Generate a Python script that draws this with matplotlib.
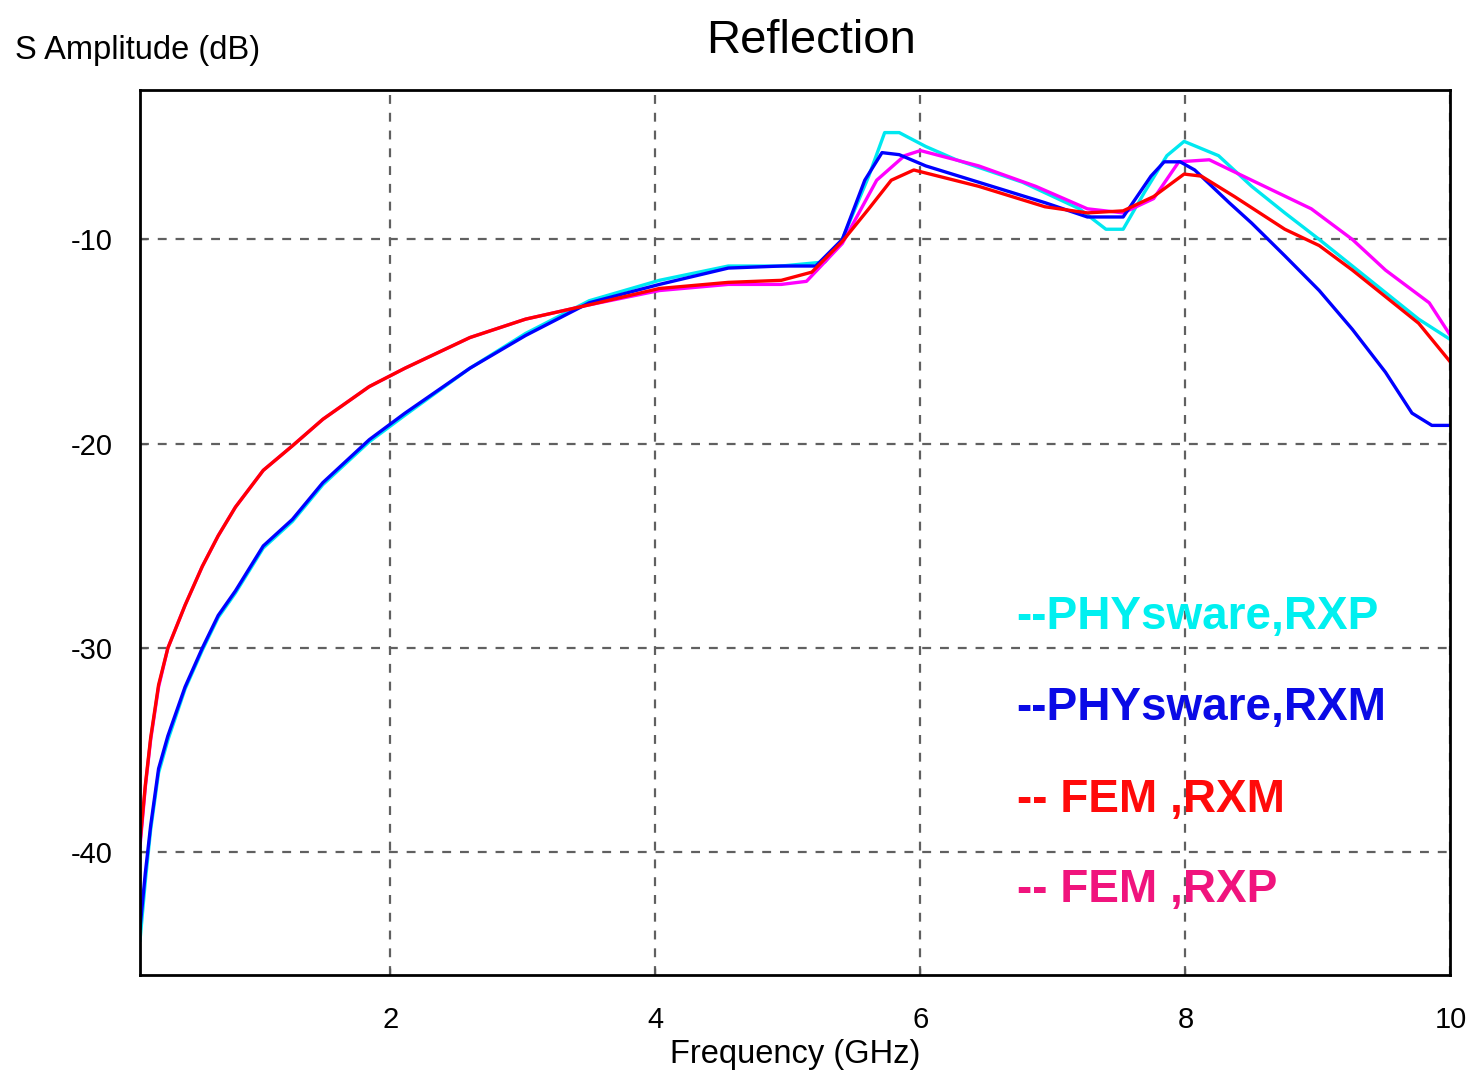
import matplotlib
matplotlib.use("Agg")
import matplotlib.pyplot as plt

plt.rcParams['font.family'] = ['Liberation Sans', 'DejaVu Sans']
plt.rcParams['axes.unicode_minus'] = False

# frequency (GHz) / S amplitude (dB)
f_low = [0.11, 0.15, 0.19, 0.25, 0.32, 0.45, 0.58, 0.70, 0.83, 1.04, 1.26, 1.49, 1.84, 2.11, 2.60, 3.02, 3.50, 4.03, 4.55]
blue_low = [-43.7, -41.0, -38.7, -35.9, -34.3, -31.9, -30.0, -28.4, -27.2, -25.0, -23.7, -21.9, -19.8, -18.5, -16.3, -14.7, -13.1, -12.2, -11.4]
cyan_low = [-44.3, -41.4, -38.9, -36.1, -34.5, -32.0, -30.1, -28.5, -27.3, -25.1, -23.8, -22.0, -19.9, -18.6, -16.3, -14.6, -13.0, -12.0, -11.3]
red_low = [-39.5, -36.7, -34.4, -31.8, -30.0, -27.9, -26.0, -24.5, -23.1, -21.3, -20.1, -18.8, -17.2, -16.3, -14.8, -13.9, -13.2, -12.4, -12.1]
mag_low = [-39.7, -36.8, -34.5, -31.9, -30.0, -27.9, -26.0, -24.5, -23.1, -21.3, -20.1, -18.8, -17.2, -16.3, -14.8, -13.9, -13.2, -12.5, -12.2]

# PHYsware, RXP (cyan)
cyan_f = f_low + [4.95, 5.28, 5.41, 5.61, 5.73, 5.84, 6.04, 6.27, 6.77, 7.20, 7.40, 7.53, 7.69, 7.86, 7.99, 8.25, 8.50, 8.75, 9.01, 9.26, 9.51, 9.76, 10.0]
cyan_db = cyan_low + [-11.3, -11.1, -10.0, -6.9, -4.77, -4.77, -5.45, -6.1, -7.2, -8.5, -9.5, -9.5, -7.7, -5.9, -5.2, -5.9, -7.4, -8.7, -10.0, -11.3, -12.6, -13.9, -14.9]

# PHYsware, RXM (blue)
blue_f = f_low + [4.95, 5.21, 5.41, 5.58, 5.71, 5.84, 6.04, 6.44, 6.94, 7.26, 7.53, 7.74, 7.84, 7.96, 8.07, 8.33, 8.50, 8.75, 9.01, 9.26, 9.51, 9.71, 9.86, 10.0]
blue_db = blue_low + [-11.3, -11.3, -10.0, -7.1, -5.75, -5.85, -6.4, -7.2, -8.2, -8.9, -8.9, -6.9, -6.2, -6.2, -6.6, -8.2, -9.2, -10.8, -12.5, -14.4, -16.5, -18.5, -19.1, -19.1]

# FEM, RXM (red)
red_f = f_low + [4.95, 5.18, 5.41, 5.61, 5.78, 5.95, 6.44, 6.94, 7.26, 7.53, 7.76, 7.99, 8.12, 8.37, 8.75, 9.01, 9.26, 9.51, 9.76, 10.0]
red_db = red_low + [-12.0, -11.6, -10.1, -8.5, -7.1, -6.6, -7.4, -8.4, -8.7, -8.6, -7.9, -6.8, -6.9, -7.9, -9.5, -10.3, -11.5, -12.8, -14.1, -16.0]

# FEM, RXP (magenta)
mag_f = f_low + [4.95, 5.14, 5.41, 5.67, 5.88, 6.0, 6.44, 6.87, 7.26, 7.53, 7.76, 7.95, 8.18, 8.50, 8.95, 9.26, 9.51, 9.84, 10.0]
mag_db = mag_low + [-12.2, -12.05, -10.2, -7.1, -5.9, -5.65, -6.4, -7.4, -8.5, -8.7, -8.0, -6.2, -6.1, -7.1, -8.5, -10.0, -11.5, -13.1, -14.7]

labels = ["--PHYsware,RXP", "--PHYsware,RXM", "-- FEM ,RXM", "-- FEM ,RXP"]
text_colors = ["#00F0F0", "#0A0AE6", "#FF0A0A", "#F0147D"]

fig = plt.figure(figsize=(14.74, 10.75), dpi=100)
ax = fig.add_axes([0.095, 0.093, 0.889, 0.823])

ax.plot(cyan_f, cyan_db, color="#00E8F0", lw=2.4)
ax.plot(mag_f, mag_db, color="#FF00FF", lw=2.4)
ax.plot(blue_f, blue_db, color="#0000FF", lw=2.4)
ax.plot(red_f, red_db, color="#FF0000", lw=2.4)

ax.set_xlim(0.11, 10)
ax.set_ylim(-46, -2.7)
ax.set_xticks([2, 4, 6, 8, 10])
ax.set_yticks([-10, -20, -30, -40])
ax.grid(True, color="#606060", linestyle=(0, (4, 4)), linewidth=1.6)
ax.tick_params(direction="in", length=5, width=1, labelsize=21, color="#555555")
ax.tick_params(axis="x", pad=22)
ax.tick_params(axis="y", pad=20)
for s in ax.spines.values():
    s.set_linewidth(2)

ax.set_xlabel("Frequency (GHz)", fontsize=23.5, labelpad=4)
fig.text(0.01, 0.953, "S Amplitude (dB)", fontsize=23.5, ha="left", va="center")
fig.text(0.55, 0.962, "Reflection", fontsize=34, ha="center", va="center")

ypos = [0.405, 0.302, 0.198, 0.096]
for lab, c, y in zip(labels, text_colors, ypos):
    ax.text(0.669, y, lab, transform=ax.transAxes, color=c, fontsize=33,
            fontweight="bold", ha="left", va="center")

fig.savefig("out.png", dpi=100)
